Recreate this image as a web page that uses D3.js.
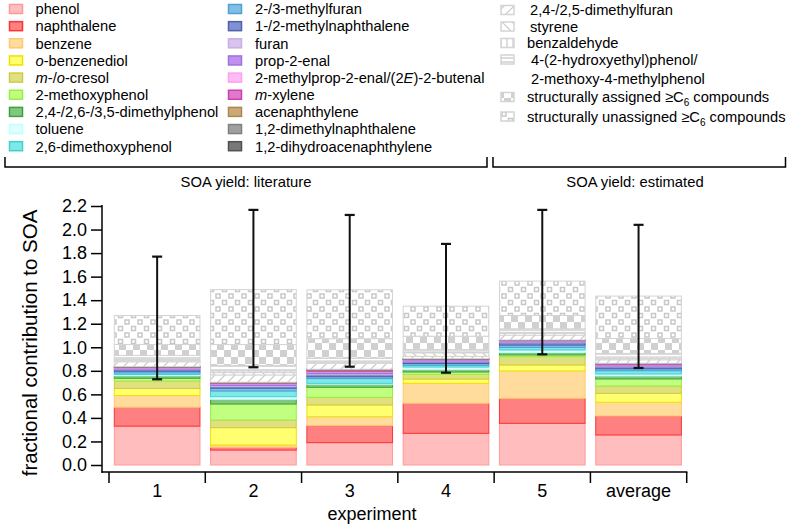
<!DOCTYPE html>
<html><head><meta charset="utf-8">
<script src="https://cdn.jsdelivr.net/npm/d3@7"></script>
<style>body{margin:0;background:#fff} svg{display:block;font-family:"Liberation Sans",Arial,Helvetica,sans-serif}</style>
</head><body><svg id="c" width="787" height="525"></svg>
<script>
// ---------- DATA ----------
const categories = ['1', '2', '3', '4', '5', 'average'];
const compounds = [
  'phenol', 'naphthalene', 'benzene', '*o*-benzenediol', '*m*-/*o*-cresol', '2-methoxyphenol',
  '2,4-/2,6-/3,5-dimethylphenol', 'toluene', '2,6-dimethoxyphenol',
  '2-/3-methylfuran', '1-/2-methylnaphthalene', 'furan', 'prop-2-enal',
  '2-methylprop-2-enal/(2*E*)-2-butenal', '*m*-xylene', 'acenaphthylene',
  '1,2-dimethylnaphthalene', '1,2-dihydroacenaphthylene',
  '2,4-/2,5-dimethylfuran', 'styrene', 'benzaldehyde',
  '4-(2-hydroxyethyl)phenol/|2-methoxy-4-methylphenol',
  'structurally assigned ≥C_6_ compounds', 'structurally unassigned ≥C_6_ compounds'
];
// values per experiment, in compound order (bottom to top)
const exp1   = [0.330, 0.160, 0.100, 0.060, 0.064, 0.023, 0.020, 0.012, 0.014, 0.014, 0.014, 0.004, 0.008, 0.004, 0.004, 0.002, 0.001, 0.001, 0.042, 0.010, 0.010, 0.034, 0.093, 0.246];
const exp2   = [0.127, 0.023, 0.020, 0.147, 0.065, 0.136, 0.040, 0.022, 0.049, 0.023, 0.014, 0.010, 0.012, 0.004, 0.004, 0.004, 0.002, 0.001, 0.062, 0.020, 0.015, 0.045, 0.178, 0.467];
const exp3   = [0.190, 0.144, 0.076, 0.100, 0.065, 0.085, 0.026, 0.008, 0.040, 0.016, 0.016, 0.010, 0.014, 0.006, 0.008, 0.004, 0.003, 0.002, 0.051, 0.010, 0.010, 0.025, 0.164, 0.415];
const exp4   = [0.269, 0.255, 0.170, 0.036, 0.040, 0.020, 0.020, 0.022, 0.016, 0.014, 0.016, 0.006, 0.008, 0.003, 0.004, 0.002, 0.001, 0.001, 0.020, 0.030, 0.008, 0.020, 0.113, 0.255];
const exp5   = [0.354, 0.212, 0.233, 0.051, 0.070, 0.015, 0.020, 0.022, 0.022, 0.020, 0.020, 0.006, 0.008, 0.003, 0.003, 0.001, 0.001, 0.001, 0.040, 0.015, 0.010, 0.030, 0.113, 0.292];
const expAvg = [0.255, 0.161, 0.117, 0.076, 0.062, 0.060, 0.025, 0.017, 0.028, 0.017, 0.016, 0.007, 0.010, 0.004, 0.005, 0.002, 0.001, 0.001, 0.030, 0.012, 0.012, 0.030, 0.127, 0.360];
const errLow  = [0.728, 0.830, 0.835, 0.784, 0.940, 0.824];
const errHigh = [1.770, 2.167, 2.124, 1.878, 2.167, 2.040];
const yTicks = [0.0, 0.2, 0.4, 0.6, 0.8, 1.0, 1.2, 1.4, 1.6, 1.8, 2.0, 2.2];
const groupLabels = ['SOA yield: literature', 'SOA yield: estimated'];

// ---------- STYLES ----------
const fills = ['#ffbdbd','#ff8080','#ffdb9c','#ffff70','#e0e080','#c0ff80','#80c880','#e0ffff','#80e8e8',
  '#80c0e8','#8090d0','#d8c4ec','#c090f0','#ffbcf4','#e078cc','#ccaa78','#a0a0a0','#787878',
  'url(#p0)','url(#p1)','url(#p2)','url(#p3)','url(#p4)','url(#p5)'];
const strokes = ['#ff9a9a','#ff3333','#ffc870','#f0e000','#cccc44','#99ee44','#40a040','#c0ffff','#40d0d0',
  '#50a0d0','#5060b0','#c8b0e0','#a070e0','#ffa0ee','#cc40b0','#aa8850','#808080','#505050',
  '#d4d4d4','#d4d4d4','#d4d4d4','#d4d4d4','#d4d4d4','#d4d4d4'];

const svg = d3.select('#c');
const G = '#c8c8c8';
const defs = svg.append('defs');
function pat(id, w, h) {
  const p = defs.append('pattern').attr('id', id).attr('patternUnits', 'userSpaceOnUse')
    .attr('width', w).attr('height', h);
  p.append('rect').attr('width', w).attr('height', h).attr('fill', '#fff');
  return p;
}
let p = pat('p0', 10, 10);
p.append('path').attr('d', 'M0,10L10,0M-2,2L2,-2M8,12L12,8').attr('stroke', G).attr('stroke-width', 1.2);
p = pat('p1', 10, 10);
p.append('path').attr('d', 'M0,0L10,10M-2,8L2,12M8,-2L12,2').attr('stroke', G).attr('stroke-width', 1.2);
p = pat('p2', 6, 6);
p.append('path').attr('d', 'M3,0V6').attr('stroke', G).attr('stroke-width', 1.2);
p = pat('p3', 4, 4);
p.append('path').attr('d', 'M0,2H4').attr('stroke', G).attr('stroke-width', 1.3);
p = pat('p4', 14, 14);
p.append('rect').attr('x', 0).attr('y', 0).attr('width', 7).attr('height', 7).attr('fill', '#d0d0d0');
p.append('rect').attr('x', 7).attr('y', 7).attr('width', 7).attr('height', 7).attr('fill', '#d0d0d0');
p = pat('p5', 13, 13);
p.append('rect').attr('x', 1.5).attr('y', 1.5).attr('width', 4).attr('height', 4).attr('fill', 'none').attr('stroke', G).attr('stroke-width', 1.5);
p.append('rect').attr('x', 8).attr('y', 8).attr('width', 4).attr('height', 4).attr('fill', 'none').attr('stroke', G).attr('stroke-width', 1.5);

// ---------- SCALES ----------
const y = d3.scaleLinear().domain([0, 2.2]).range([465, 206]);
const x = d3.scaleBand().domain(categories).range([109, 686.7]).paddingInner(0.1).paddingOuter(0.05);

const rows = [exp1, exp2, exp3, exp4, exp5, expAvg].map((v, i) => {
  const o = { cat: categories[i] };
  compounds.forEach((c, j) => o['k' + j] = v[j]);
  return o;
});
const keys = compounds.map((c, j) => 'k' + j);
const series = d3.stack().keys(keys)(rows);

// ---------- BARS ----------
const gBars = svg.append('g');
series.forEach((s, j) => {
  gBars.append('g').selectAll('rect').data(s).join('rect')
    .attr('x', d => x(d.data.cat) + 0.5)
    .attr('width', x.bandwidth() - 1)
    .attr('y', d => y(d[1]))
    .attr('height', d => Math.max(0, y(d[0]) - y(d[1])))
    .attr('fill', fills[j])
    .attr('stroke', strokes[j])
    .attr('stroke-width', 1);
});

// ---------- ERROR BARS ----------
const gErr = svg.append('g').attr('stroke', '#111').attr('stroke-width', 2);
categories.forEach((c, i) => {
  const cx = x(c) + x.bandwidth() / 2;
  gErr.append('line').attr('x1', cx).attr('x2', cx).attr('y1', y(errLow[i])).attr('y2', y(errHigh[i]));
  [errLow[i], errHigh[i]].forEach(v => {
    gErr.append('line').attr('x1', cx - 5).attr('x2', cx + 5).attr('y1', y(v)).attr('y2', y(v)).attr('stroke-width', 2.2);
  });
});

// ---------- Y AXIS ----------
const yAxis = svg.append('g').attr('transform', 'translate(102,0)')
  .call(d3.axisLeft(y).tickValues(yTicks).tickFormat(d3.format('.1f')).tickSize(11).tickSizeOuter(0).tickPadding(4));
yAxis.select('.domain').remove();
yAxis.selectAll('.tick line').attr('stroke', '#000').attr('stroke-width', 1.5);
yAxis.selectAll('.tick text').attr('font-size', 18).attr('fill', '#000')
  .attr('font-family', '"Liberation Sans",Arial,Helvetica,sans-serif');
svg.append('line').attr('x1', 102).attr('x2', 102).attr('y1', 205).attr('y2', 472.7)
  .attr('stroke', '#000').attr('stroke-width', 1.5);

// ---------- X AXIS ----------
const step = x.step();
const bounds = categories.map(c => x(c) - step * 0.05).concat([x(categories[categories.length - 1]) + x.bandwidth() + step * 0.05]);
svg.append('line').attr('x1', 101.3).attr('x2', bounds[bounds.length - 1] + 0.7).attr('y1', 472).attr('y2', 472)
  .attr('stroke', '#000').attr('stroke-width', 1.5);
svg.append('g').selectAll('line').data(bounds).join('line')
  .attr('x1', d => d).attr('x2', d => d).attr('y1', 472).attr('y2', 483)
  .attr('stroke', '#000').attr('stroke-width', 1.5);
svg.append('g').selectAll('text').data(categories).join('text')
  .attr('x', d => x(d) + x.bandwidth() / 2).attr('y', 497)
  .attr('text-anchor', 'middle').attr('font-size', 18).text(d => d);
svg.append('text').attr('x', 372).attr('y', 520).attr('text-anchor', 'middle').attr('font-size', 18).text('experiment');
svg.append('text').attr('transform', 'translate(37,343) rotate(-90)').attr('text-anchor', 'middle')
  .attr('font-size', 20.5).text('fractional contribution to SOA');

// ---------- LEGEND ----------
function rich(t, str) {
  let shiftBack = false;
  str.split(/(\*[^*]+\*|_[^_]+_)/).filter(s => s.length).forEach(part => {
    let ts;
    if (part[0] === '*') ts = t.append('tspan').attr('font-style', 'italic').text(part.slice(1, -1));
    else if (part[0] === '_') ts = t.append('tspan').attr('font-size', '0.68em').attr('dy', 4).text(part.slice(1, -1));
    else ts = t.append('tspan').text(part);
    if (shiftBack) { ts.attr('dy', -4); shiftBack = false; }
    if (part[0] === '_') shiftBack = true;
  });
}
const FS = 14.7;
const gLeg = svg.append('g');
function legendItem(j, sx, tx, cy) {
  gLeg.append('rect').attr('x', sx).attr('y', cy - 4.5).attr('width', 13).attr('height', 9)
    .attr('fill', fills[j]).attr('stroke', strokes[j]).attr('stroke-width', 1.5);
  const lines = compounds[j].split('|');
  lines.forEach((ln, k) => {
    const t = gLeg.append('text').attr('x', tx).attr('y', cy + 5.3 + k * 18.8).attr('font-size', FS);
    rich(t, ln);
  });
}
for (let j = 0; j < 9; j++) legendItem(j, 9.5, 35.5, 9 + j * 17.15);
for (let j = 9; j < 18; j++) legendItem(j, 228.5, 255, 9 + (j - 9) * 17.15);
const c3y = [10, 26.5, 43, 59.5, 97, 116.5];
const c3x = [530, 530, 527, 531, 527, 527];
for (let j = 18; j < 24; j++) legendItem(j, 501, c3x[j - 18], c3y[j - 18]);

// ---------- GROUP BRACKETS ----------
const gB = svg.append('g').attr('stroke', '#000').attr('stroke-width', 1.5).attr('fill', 'none');
gB.append('path').attr('d', 'M5,157V167H487V157');
gB.append('path').attr('d', 'M493,157V167H785.5V157');
svg.append('text').attr('x', 246).attr('y', 187).attr('text-anchor', 'middle').attr('font-size', 14.8).text(groupLabels[0]);
svg.append('text').attr('x', 635).attr('y', 187).attr('text-anchor', 'middle').attr('font-size', 14.8).text(groupLabels[1]);
</script></body></html>
